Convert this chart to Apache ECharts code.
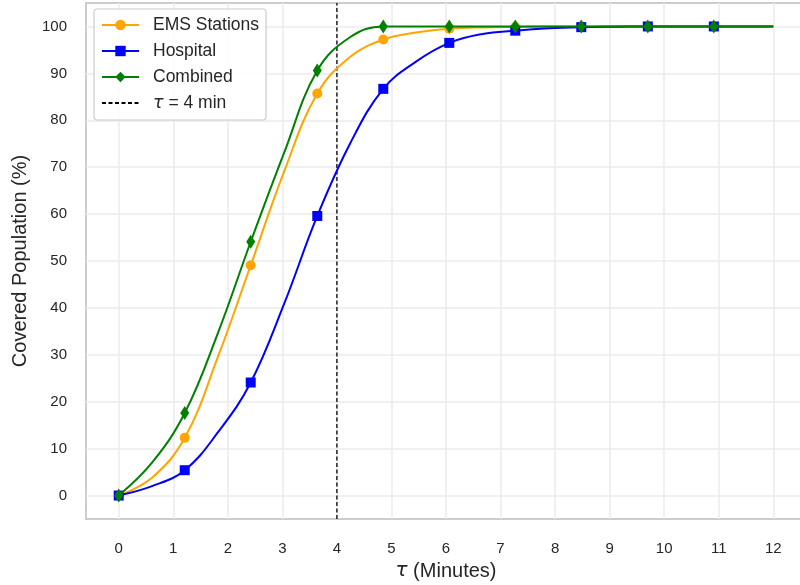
<!DOCTYPE html>
<html>
<head>
<meta charset="utf-8">
<script src="https://cdn.jsdelivr.net/npm/echarts@6/dist/echarts.min.js"></script>
<style>
html,body{margin:0;padding:0;background:#fff;}
#chart{width:800px;height:585px;}
</style>
</head>
<body>
<div id="chart"></div>
<script>
// time in minutes (sample points along each curve)
const tValues = [0, 0.61, 1.21, 1.82, 2.42, 3.03, 3.64, 4.24, 4.85, 5.45, 6.06, 6.67, 7.27, 7.88, 8.48, 9.09, 9.70, 10.30, 10.91, 11.52, 12.0];
// indices in tValues that carry a marker
const markerIdx = [0, 2, 4, 6, 8, 10, 12, 14, 16, 18];
const emsValues = [0, 3.8, 12.3, 29.6, 49.1, 69.0, 85.7, 93.5, 97.2, 98.7, 99.5, 99.8, 99.9, 100, 100, 100, 100, 100, 100, 100, 100];
const hospitalValues = [0, 2.0, 5.4, 13.5, 24.1, 40.8, 59.6, 75.0, 86.7, 92.5, 96.5, 98.4, 99.1, 99.6, 99.85, 99.95, 100, 100, 100, 100, 100];
const combinedValues = [0, 7.0, 17.6, 34.7, 54.1, 73.0, 90.6, 97.7, 100, 100, 100, 100, 100, 100, 100, 100, 100, 100, 100, 100, 100];
const seriesNames = ['EMS Stations', 'Hospital', 'Combined', 'τ = 4 min'];
const thresholdTau = 4;
const xTickLabels = ['0','1','2','3','4','5','6','7','8','9','10','11','12'];
const yTickLabels = ['0','10','20','30','40','50','60','70','80','90','100'];

const FONT = 'Liberation Sans, Arial, sans-serif';
const TXT = '#262626';
const GRIDC = '#ebebeb';

function build(vals) {
  return tValues.map((t, i) => {
    const p = { value: [t, vals[i]] };
    if (markerIdx.indexOf(i) < 0) p.symbol = 'none';
    return p;
  });
}

const chart = echarts.init(document.getElementById('chart'), null, { renderer: 'canvas' });
const option = {
  animation: false,
  backgroundColor: '#ffffff',
  grid: {
    left: 86, right: -6, top: 3, bottom: 66,
    outerBoundsMode: 'none', containLabel: false,
    show: true, borderColor: '#cccccc', borderWidth: 2, backgroundColor: 'transparent'
  },
  legend: {
    left: 94, top: 9, orient: 'vertical',
    padding: [7, 7, 8, 7],
    itemWidth: 37, itemHeight: 13, itemGap: 8,
    backgroundColor: 'rgba(255,255,255,0.85)',
    borderColor: '#cccccc', borderWidth: 1.2, borderRadius: 3,
    textStyle: { fontFamily: FONT, fontSize: 17.5, color: TXT, lineHeight: 17, padding: [0, 0, 0, 9],
      rich: { i: { fontFamily: 'DejaVu Sans, sans-serif', fontStyle: 'italic', fontSize: 17.5, color: TXT, lineHeight: 17 } } },
    formatter: function (name) {
      if (name === seriesNames[3]) return '{i|τ} = ' + thresholdTau + ' min';
      return name;
    },
    data: [seriesNames[0], seriesNames[1], seriesNames[2],
      { name: seriesNames[3], itemStyle: { color: 'rgba(0,0,0,0)', borderWidth: 0 } }]
  },
  xAxis: {
    type: 'value', min: -0.6, max: 12.6, interval: 0.2,
    axisLine: { show: false }, axisTick: { show: false },
    axisLabel: {
      margin: 22, fontFamily: FONT, fontSize: 15, color: TXT,
      formatter: function (v) {
        const r = Math.round(v);
        if (Math.abs(v - r) < 1e-6 && r >= 0 && r < xTickLabels.length) return xTickLabels[r];
        return '';
      }
    },
    splitLine: { show: true, lineStyle: { width: 1.5, color: ['transparent', 'transparent', 'transparent', GRIDC, 'transparent'] } },
    name: '{i|τ} (Minutes)', nameLocation: 'middle', nameGap: 42,
    nameTextStyle: { fontFamily: FONT, fontSize: 20, color: TXT,
      rich: { i: { fontFamily: 'DejaVu Sans, sans-serif', fontStyle: 'italic', fontSize: 20, color: TXT } } }
  },
  yAxis: {
    type: 'value', min: -5, max: 105, interval: 5,
    axisLine: { show: false }, axisTick: { show: false },
    axisLabel: {
      margin: 19, fontFamily: FONT, fontSize: 15, color: TXT,
      formatter: function (v) {
        const r = Math.round(v);
        if (Math.abs(v - r) < 1e-6 && r % 10 === 0 && r >= 0 && r / 10 < yTickLabels.length) return yTickLabels[r / 10];
        return '';
      }
    },
    splitLine: { show: true, lineStyle: { width: 1.5, color: ['transparent', GRIDC] } },
    name: 'Covered Population (%)', nameLocation: 'middle', nameGap: 56,
    nameTextStyle: { fontFamily: FONT, fontSize: 20, color: TXT }
  },
  series: [
    {
      name: seriesNames[0], type: 'line', smooth: 0.4,
      data: build(emsValues), symbol: 'circle', symbolSize: 10,
      lineStyle: { color: '#FFA500', width: 2 }, itemStyle: { color: '#FFA500' }, z: 3
    },
    {
      name: seriesNames[1], type: 'line', smooth: 0.4,
      data: build(hospitalValues), symbol: 'rect', symbolSize: 10,
      lineStyle: { color: '#0000FF', width: 2 }, itemStyle: { color: '#0000FF' }, z: 4
    },
    {
      name: seriesNames[2], type: 'line', smooth: 0.4,
      data: build(combinedValues), symbol: 'diamond', symbolSize: [9, 14],
      lineStyle: { color: '#008000', width: 2 }, itemStyle: { color: '#008000' }, z: 5
    },
    {
      name: seriesNames[3], type: 'line', symbol: 'none',
      data: [[thresholdTau, -5], [thresholdTau, 105]],
      lineStyle: { color: '#000000', width: 1.3, type: [4, 2.5] }, itemStyle: { color: '#000000' }, z: 2
    }
  ]
};
chart.setOption(option);
</script>
</body>
</html>
